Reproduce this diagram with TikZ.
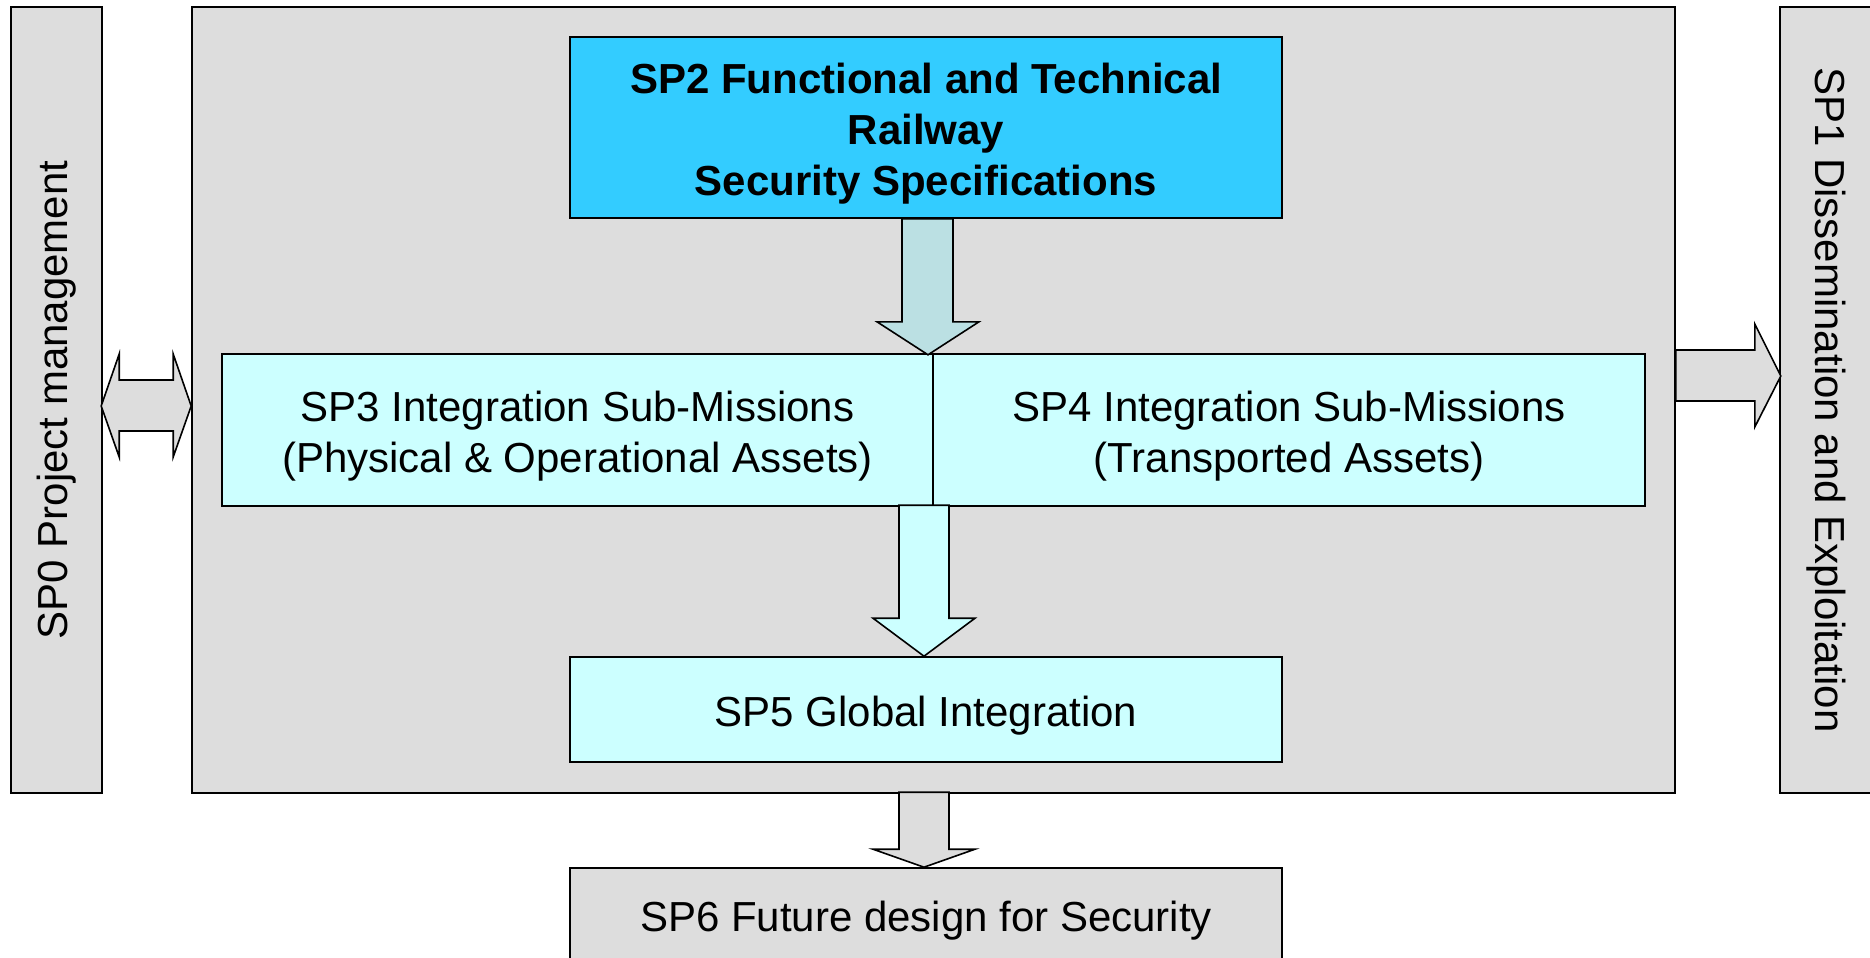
\documentclass[tikz,border=0pt]{standalone}
\usepackage{fontspec}
\setmainfont{Liberation Sans}
\usetikzlibrary{calc}
\definecolor{boxgray}{HTML}{DDDDDD}
\definecolor{sptwo}{HTML}{33CCFF}
\definecolor{spcyan}{HTML}{CCFFFF}
\definecolor{arrone}{HTML}{BBE0E3}
\tikzset{
  every node/.style={font=\fontsize{21}{25.5}\selectfont},
  box/.style={draw=black, line width=0.8pt, inner sep=0pt, anchor=center},
  txt/.style={align=center, inner sep=0pt, yshift=-3pt},
  blk/.style={draw=black, line width=0.8pt, line join=miter},
}
\begin{document}
\begin{tikzpicture}[x=0.5pt, y=-0.5pt]
\useasboundingbox (0,0) rectangle (1870,958);
% main frame
\node[box, fill=boxgray, minimum width=741.5pt, minimum height=393pt] (main) at (933.5,400) {};
% side boxes
\node[box, fill=boxgray, minimum width=45.5pt, minimum height=393pt] (sp0) at (56.5,400) {};
\node[rotate=90, inner sep=0pt] (sp0t) at (sp0.center) {SP0 Project management};
\node[box, fill=boxgray, minimum width=46pt, minimum height=393pt] (sp1) at (1826,400) {};
\node[rotate=-90, inner sep=0pt] (sp1t) at (sp1.center) {SP1 Dissemination and Exploitation};
% inner boxes
\node[box, fill=sptwo, minimum width=356pt, minimum height=90.5pt] (sp2) at (926,127.5) {};
\node[txt, font=\fontsize{21}{25.5}\selectfont\bfseries] (sp2t) at (sp2.center) {SP2 Functional and Technical\\Railway\\Security Specifications};
\node[box, fill=spcyan, minimum width=355.5pt, minimum height=76pt] (sp3) at (577.5,430) {};
\node[txt] (sp3t) at (sp3.center) {SP3 Integration Sub-Missions\\(Physical \& Operational Assets)};
\node[box, fill=spcyan, minimum width=356pt, minimum height=76pt] (sp4) at (1289,430) {};
\node[txt] (sp4t) at (sp4.center) {SP4 Integration Sub-Missions\\(Transported Assets)};
\node[box, fill=spcyan, minimum width=356pt, minimum height=52.5pt] (sp5) at (926,709.5) {};
\node[txt] (sp5t) at (sp5.center) {SP5 Global Integration};
\node[box, fill=boxgray, minimum width=356pt, minimum height=47pt] (sp6) at (926,915) {};
\node[txt] (sp6t) at (sp6.center) {SP6 Future design for Security};
% arrow SP2 -> SP3/SP4
\draw[blk, fill=arrone] ($(sp2.south)+(-24,0)$) -- ($(sp2.south)+(27,0)$) -- ($(sp2.south)+(27,103)$) -- ($(sp2.south)+(53,103)$) -- ($(sp2.south)+(2,136)$) -- ($(sp2.south)+(-49,103)$) -- ($(sp2.south)+(-24,103)$) -- cycle;
% arrow SP3/SP4 -> SP5
\draw[blk, fill=spcyan] ($(sp5.north)+(-27,-151)$) -- ($(sp5.north)+(23,-151)$) -- ($(sp5.north)+(23,-38)$) -- ($(sp5.north)+(49,-38)$) -- ($(sp5.north)+(-2,0)$) -- ($(sp5.north)+(-53,-38)$) -- ($(sp5.north)+(-27,-38)$) -- cycle;
% arrow main -> SP6
\draw[blk, fill=boxgray] ($(sp6.north)+(-27,-75)$) -- ($(sp6.north)+(23,-75)$) -- ($(sp6.north)+(23,-18)$) -- ($(sp6.north)+(49,-18)$) -- ($(sp6.north)+(-2,0)$) -- ($(sp6.north)+(-53,-18)$) -- ($(sp6.north)+(-27,-18)$) -- cycle;
% double arrow SP0 <-> main
\draw[blk, fill=boxgray] ($(main.west)+(-90,6)$) -- ($(main.west)+(-72,-46)$) -- ($(main.west)+(-72,-20)$) -- ($(main.west)+(-18,-20)$) -- ($(main.west)+(-18,-46)$) -- ($(main.west)+(0,6)$) -- ($(main.west)+(-18,57)$) -- ($(main.west)+(-18,31)$) -- ($(main.west)+(-72,31)$) -- ($(main.west)+(-72,57)$) -- cycle;
% arrow main -> SP1
\draw[blk, fill=boxgray] ($(main.east)+(0,-50)$) -- ($(main.east)+(79,-50)$) -- ($(main.east)+(79,-76)$) -- ($(main.east)+(105,-24)$) -- ($(main.east)+(79,27)$) -- ($(main.east)+(79,1)$) -- ($(main.east)+(0,1)$) -- cycle;
\end{tikzpicture}
\end{document}
